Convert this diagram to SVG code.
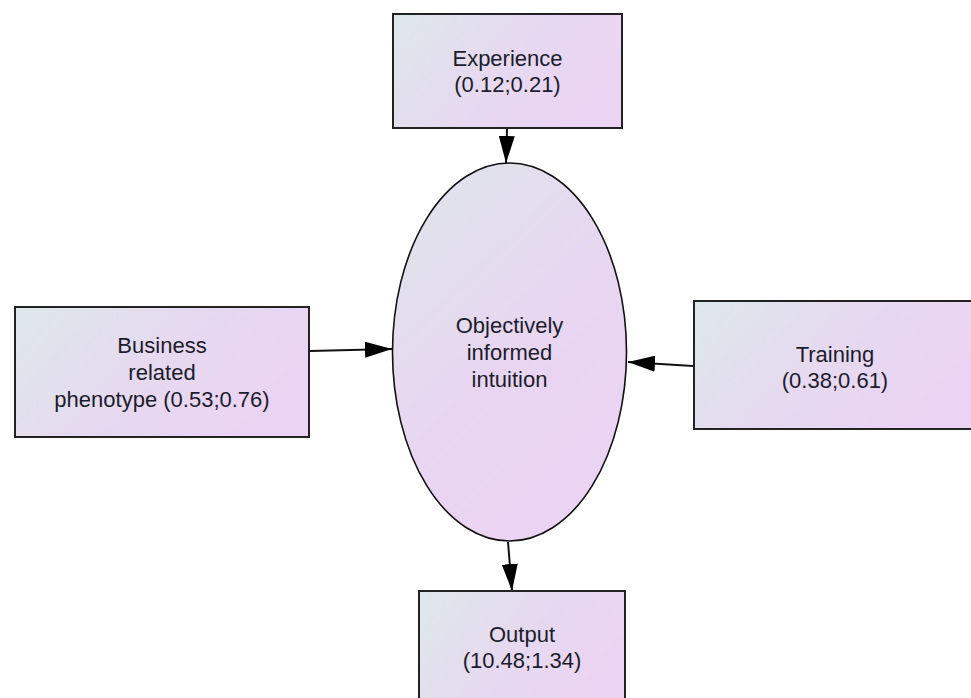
<svg xmlns="http://www.w3.org/2000/svg" width="971" height="698" viewBox="0 0 971 698">
  <style>
    .box { stroke: #222; stroke-width: 2; fill: url(#gBox); }
    .ell { stroke: #111; stroke-width: 1.6; fill: url(#gEll); }
    .lbl { font-family: "Liberation Sans", Arial, sans-serif; font-size: 22px; fill: #1c1c2c; text-anchor: middle; }
    .edge { stroke: #111; stroke-width: 2; fill: none; marker-end: url(#arrow); }
  </style>
  <defs>
    <linearGradient id="gBox" x1="0" y1="0" x2="1" y2="0.4">
      <stop offset="0" stop-color="#dde8ea"/>
      <stop offset="0.55" stop-color="#e6d9f0"/>
      <stop offset="1" stop-color="#ebd4f3"/>
    </linearGradient>
    <linearGradient id="gEll" x1="0" y1="0" x2="0.6" y2="1">
      <stop offset="0" stop-color="#dde6ea"/>
      <stop offset="0.6" stop-color="#e8d6f1"/>
      <stop offset="1" stop-color="#ebd3f3"/>
    </linearGradient>
    <marker id="arrow" markerUnits="userSpaceOnUse" markerWidth="28" markerHeight="16" refX="27" refY="8" orient="auto">
      <path d="M0,0 L27,8 L0,16 Z" fill="#000"/>
    </marker>
  </defs>

  <g id="connectors">
    <line class="edge" x1="507" y1="129" x2="506" y2="163"/>
    <line class="edge" x1="310" y1="351" x2="392" y2="349"/>
    <line class="edge" x1="693" y1="366" x2="628" y2="362"/>
    <line class="edge" x1="508" y1="542" x2="512" y2="591"/>
  </g>

  <g id="node-experience">
    <rect class="box" x="393" y="14" width="229" height="114"/>
    <text class="lbl" x="507.5" y="66">Experience</text>
    <text class="lbl" x="507.5" y="92">(0.12;0.21)</text>
  </g>

  <g id="node-business">
    <rect class="box" x="15" y="307" width="294" height="130"/>
    <text class="lbl" x="162" y="353">Business</text>
    <text class="lbl" x="162" y="380">related</text>
    <text class="lbl" x="162" y="407">phenotype (0.53;0.76)</text>
  </g>

  <g id="node-intuition">
    <ellipse class="ell" cx="509.5" cy="352" rx="117" ry="189"/>
    <text class="lbl" x="509.5" y="333">Objectively</text>
    <text class="lbl" x="509.5" y="360">informed</text>
    <text class="lbl" x="509.5" y="387">intuition</text>
  </g>

  <g id="node-training">
    <rect class="box" x="694" y="301" width="282" height="128"/>
    <text class="lbl" x="835" y="362">Training</text>
    <text class="lbl" x="835" y="388">(0.38;0.61)</text>
  </g>

  <g id="node-output">
    <rect class="box" x="419" y="591" width="206" height="120"/>
    <text class="lbl" x="522" y="642">Output</text>
    <text class="lbl" x="522" y="668">(10.48;1.34)</text>
  </g>
</svg>
